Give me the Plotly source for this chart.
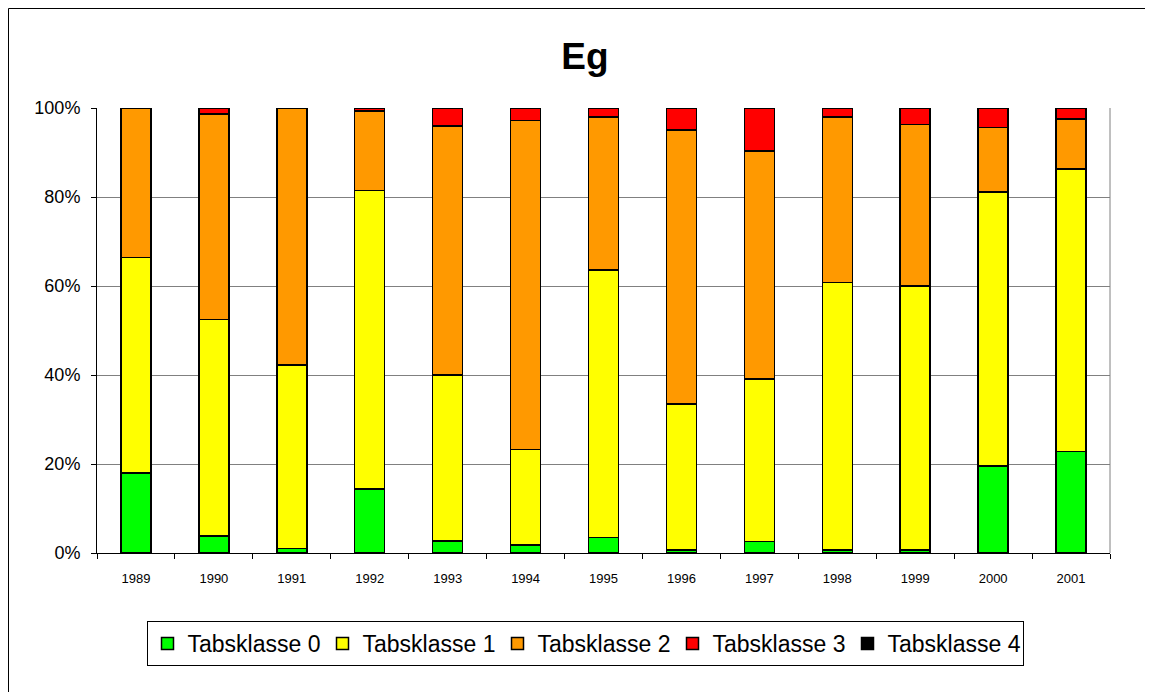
import plotly.graph_objects as go

# Jahre und Anteile (%) je Tabsklasse
years = ["1989", "1990", "1991", "1992", "1993", "1994", "1995",
         "1996", "1997", "1998", "1999", "2000", "2001"]
klasse0 = [18.0, 3.8, 1.0, 14.4, 2.7, 1.8, 3.5, 0.7, 2.6, 0.7, 0.7, 19.6, 22.8]
klasse1 = [48.4, 48.7, 41.3, 67.1, 37.3, 21.5, 60.1, 32.8, 36.5, 60.1, 59.3, 61.5, 63.5]
klasse2 = [33.6, 46.2, 57.7, 17.8, 56.0, 73.9, 34.4, 61.6, 51.2, 37.2, 36.3, 14.5, 11.2]
klasse3 = [0.0, 1.3, 0.0, 0.7, 4.0, 2.8, 2.0, 4.9, 9.7, 2.0, 3.7, 4.4, 2.5]
klasse4 = [0, 0, 0, 0, 0, 0, 0, 0, 0, 0, 0, 0, 0]

ytickvals = [0, 20, 40, 60, 80, 100]
yticktext = ["0%", "20%", "40%", "60%", "80%", "100%"]

series = [("Tabsklasse 0", klasse0, "#00FF00"),
          ("Tabsklasse 1", klasse1, "#FFFF00"),
          ("Tabsklasse 2", klasse2, "#FF9900"),
          ("Tabsklasse 3", klasse3, "#FF0000"),
          ("Tabsklasse 4", klasse4, "#000000")]

# Seite hat 8px Rand -> Figur etwas kleiner
W, H = 1145, 684
L, R, T, B = 89, 43, 100, 139

fig = go.Figure()
for name, vals, col in series:
    fig.add_trace(go.Bar(x=years, y=vals, name=name,
                         marker=dict(color=col, line=dict(color="black", width=1.5))))

fig.update_layout(
    width=W, height=H,
    barmode="stack", bargap=0.615,
    margin=dict(l=L, r=R, t=T, b=B),
    plot_bgcolor="white", paper_bgcolor="white",
    font=dict(family="Arial, Liberation Sans", color="black"),
    title=dict(text="<b>Eg</b>", font=dict(size=37, color="black"),
               x=577 / W, xref="container", xanchor="center",
               y=1 - 48 / H, yref="container", yanchor="middle"),
    legend=dict(orientation="h", x=577 / W, xanchor="center",
                y=1 - 613 / H, yanchor="top", xref="container", yref="container",
                bordercolor="black", borderwidth=1, font=dict(size=23),
                entrywidth=130, traceorder="normal"),
    showlegend=True,
)

fig.update_xaxes(showline=True, linecolor="black", linewidth=1,
                 ticks="outside", ticklen=5, tickcolor="black", tickson="boundaries",
                 tickfont=dict(size=13), showgrid=False, ticklabelstandoff=13)
fig.update_yaxes(range=[0, 100], tickvals=ytickvals, ticktext=yticktext,
                 showline=True, linecolor="black", linewidth=1,
                 ticks="outside", ticklen=5, tickcolor="black",
                 showgrid=True, gridcolor="#808080", gridwidth=1,
                 tickfont=dict(size=18), zeroline=False, ticklabelstandoff=7)

# grauer rechter Rand der Zeichenfläche
fig.add_shape(type="line", xref="paper", yref="paper", x0=1, x1=1, y0=0, y1=1,
              line=dict(color="#808080", width=1))
# Diagrammrahmen (nur links/oben sichtbar)
pw, ph = W - L - R, H - T - B
fig.add_shape(type="rect", xref="paper", yref="paper",
              x0=(0.5 - L) / pw, x1=(W + 10 - L) / pw,
              y0=(H - B - (H + 10)) / ph, y1=(H - B - 0.5) / ph,
              line=dict(color="black", width=1), layer="below")

fig.write_html("out.html")
